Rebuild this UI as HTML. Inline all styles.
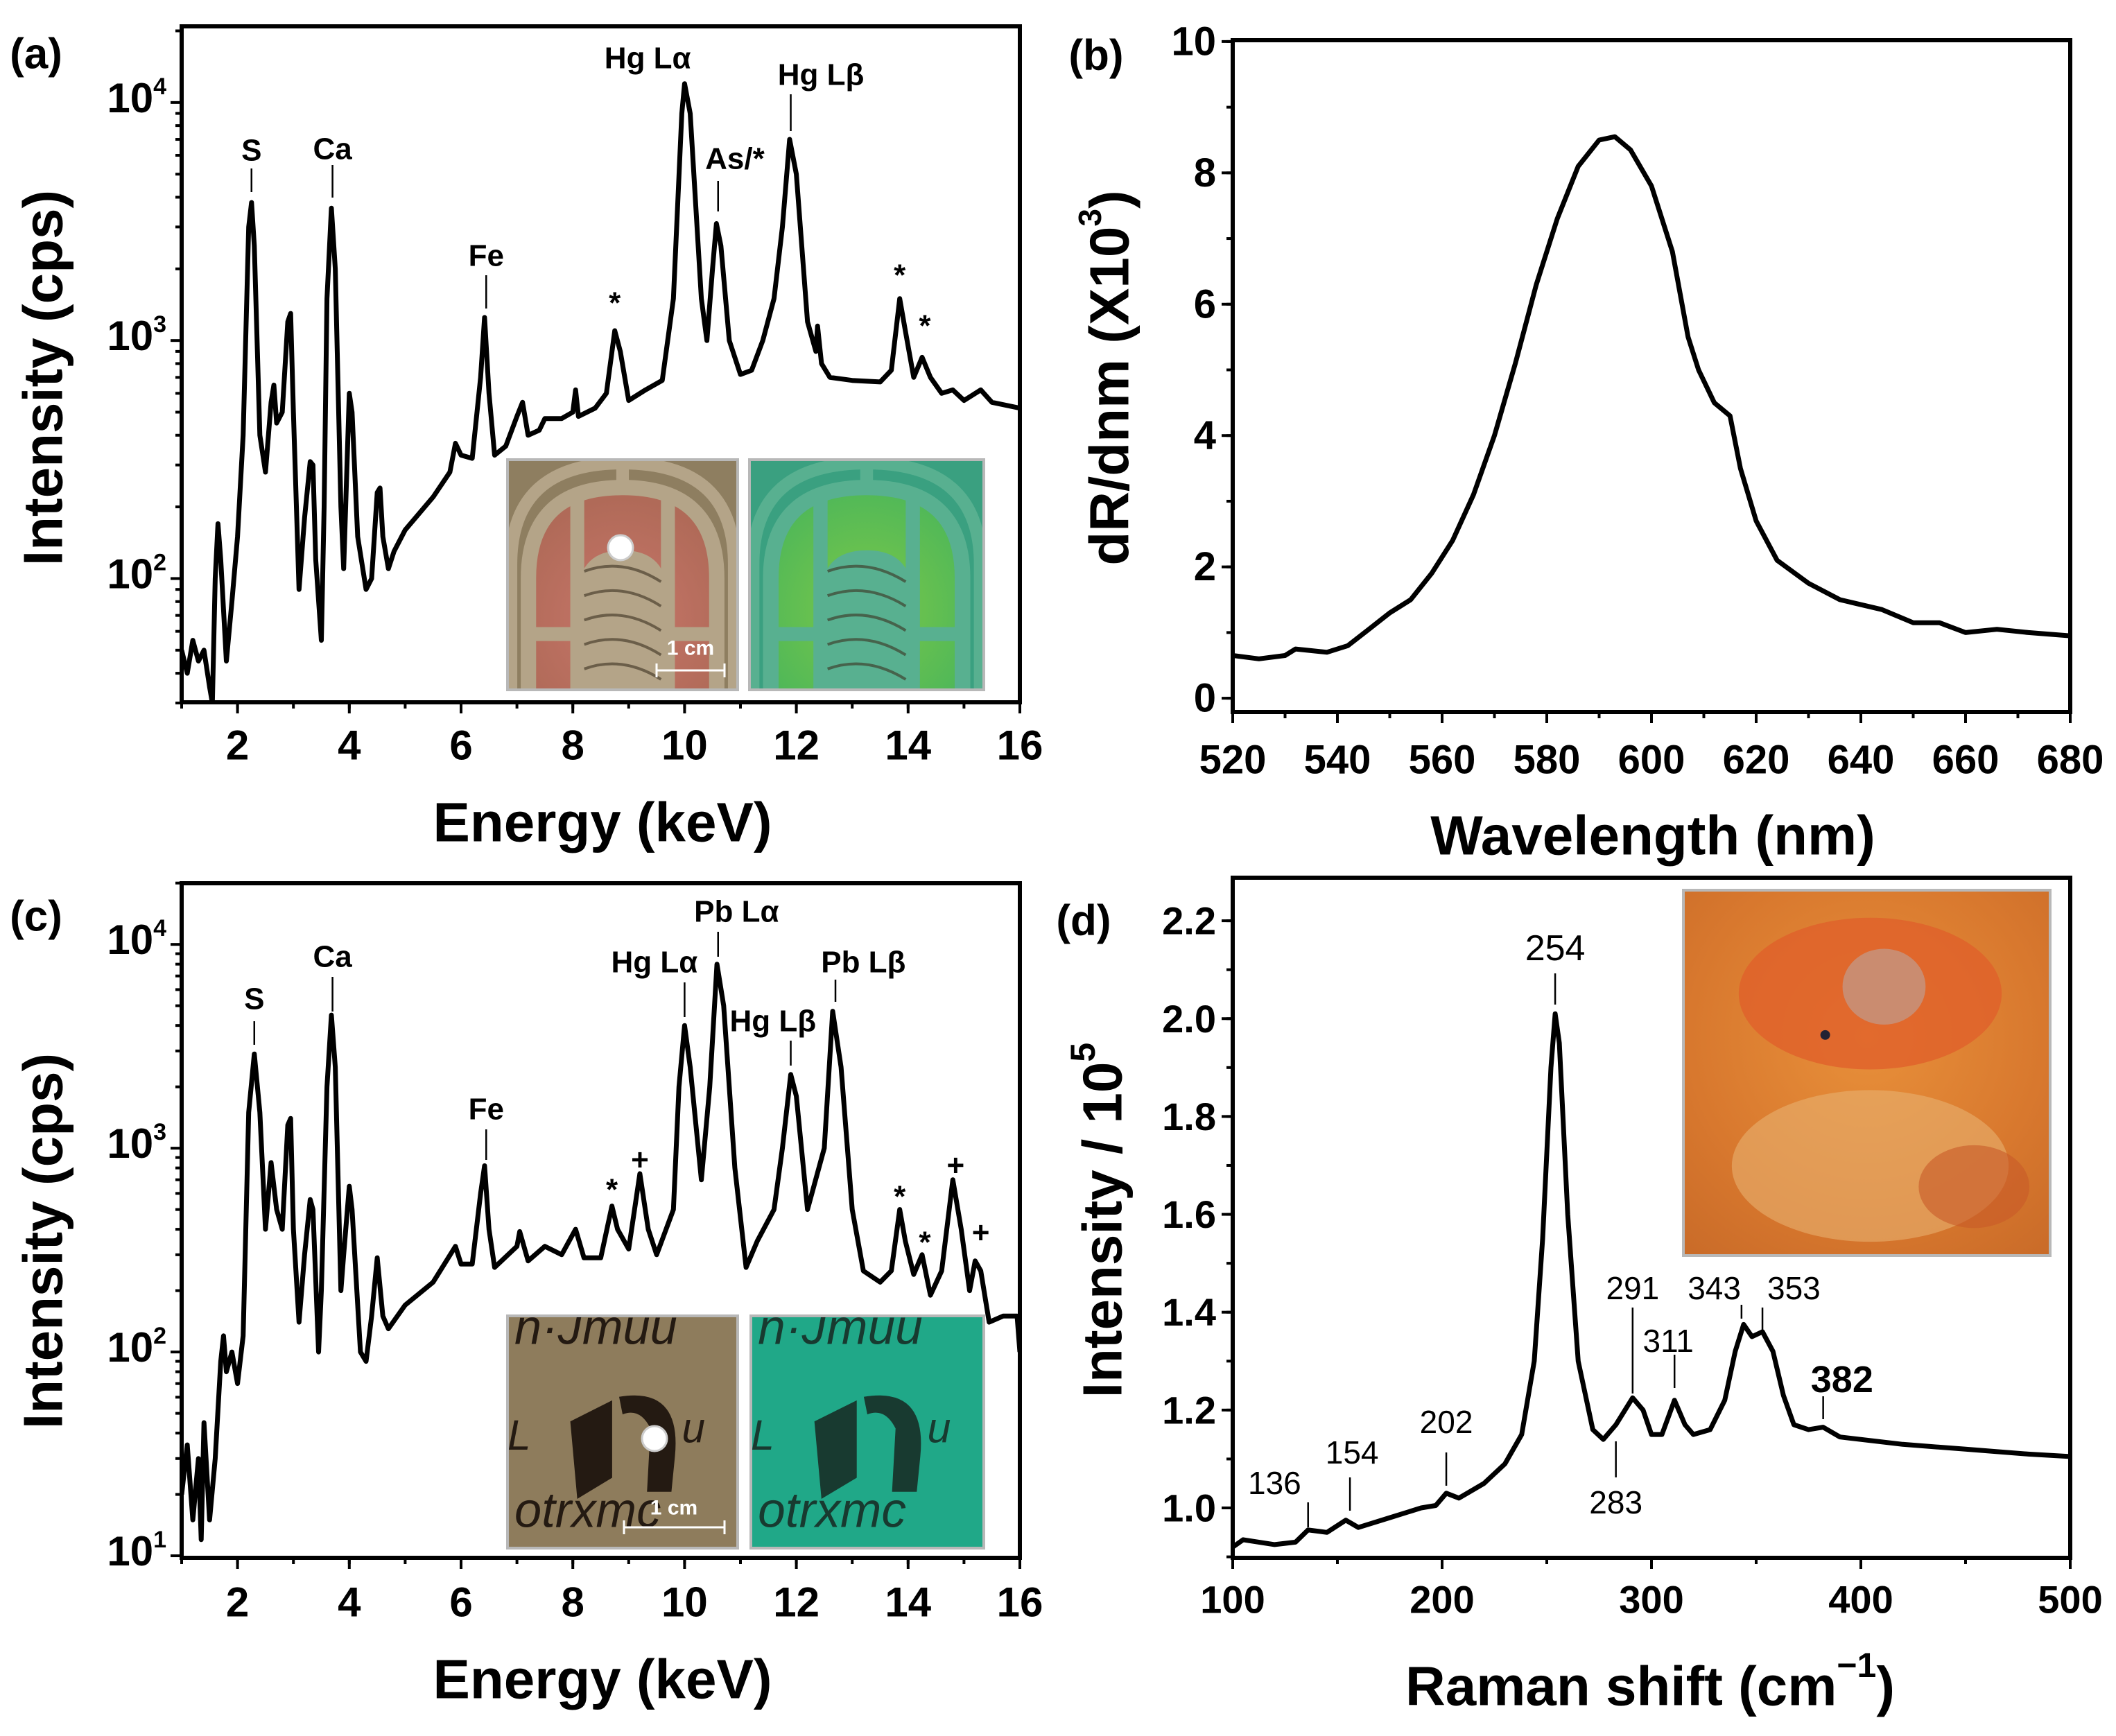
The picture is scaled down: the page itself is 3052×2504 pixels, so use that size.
<!DOCTYPE html>
<html><head><meta charset="utf-8"><style>
html,body{margin:0;padding:0;background:#fff}
svg{display:block}
text{font-family:"Liberation Sans",Arial,sans-serif;fill:#000}
</style></head>
<body>
<svg id="fig" xmlns="http://www.w3.org/2000/svg" width="3052" height="2504" viewBox="0 0 3052 2504">
<defs>
<radialGradient id="redArch" cx="0.5" cy="0.65" r="0.6"><stop offset="0" stop-color="#c8766a"/><stop offset="1" stop-color="#b06a58"/></radialGradient>
<radialGradient id="greenArch" cx="0.5" cy="0.6" r="0.6"><stop offset="0" stop-color="#7cc848"/><stop offset="1" stop-color="#50b858"/></radialGradient>
<radialGradient id="orangeBg" cx="0.5" cy="0.4" r="0.8"><stop offset="0" stop-color="#e8903a"/><stop offset="0.6" stop-color="#d8782e"/><stop offset="1" stop-color="#c86a28"/></radialGradient>
</defs>
<g id="layer"></g>
</svg>
<script>
// ---------- data ----------
const aEnergy=[1.0,1.1,1.2,1.3,1.4,1.5,1.55,1.6,1.65,1.7,1.8,1.9,2.0,2.1,2.2,2.25,2.3,2.4,2.5,2.6,2.65,2.7,2.8,2.9,2.95,3.0,3.1,3.2,3.3,3.35,3.4,3.5,3.55,3.6,3.68,3.75,3.85,3.9,4.0,4.05,4.15,4.3,4.4,4.5,4.55,4.6,4.7,4.8,5.0,5.5,5.8,5.9,6.0,6.2,6.35,6.42,6.5,6.6,6.8,7.0,7.1,7.2,7.4,7.5,7.8,8.0,8.05,8.1,8.4,8.6,8.75,8.85,9.0,9.3,9.6,9.8,9.95,10.0,10.1,10.3,10.4,10.5,10.57,10.65,10.8,11.0,11.2,11.4,11.6,11.75,11.88,12.0,12.2,12.35,12.38,12.45,12.6,13.0,13.5,13.7,13.85,13.95,14.1,14.25,14.4,14.6,14.8,15.0,15.3,15.5,16.0];
const aCounts=[50,40,55,45,50,35,30,100,170,120,45,80,150,400,3000,3800,2500,400,280,550,650,450,500,1200,1300,500,90,180,310,300,120,55,200,1500,3600,2000,200,110,600,500,150,90,100,230,240,150,110,130,160,220,280,370,330,320,700,1250,600,330,360,480,550,400,420,470,470,500,620,480,520,600,1100,900,560,620,680,1500,9000,12000,9000,1500,1000,2000,3100,2500,1000,720,750,1000,1500,3000,7000,5000,1200,900,1150,800,700,680,670,750,1500,1100,700,850,700,600,620,560,620,550,520];
const cEnergy=[1.0,1.1,1.2,1.3,1.35,1.4,1.5,1.6,1.7,1.75,1.8,1.9,2.0,2.1,2.2,2.3,2.4,2.5,2.6,2.7,2.8,2.9,2.95,3.0,3.1,3.2,3.3,3.35,3.45,3.5,3.6,3.68,3.75,3.85,3.9,4.0,4.05,4.2,4.3,4.4,4.5,4.6,4.7,5.0,5.5,5.9,6.0,6.2,6.35,6.42,6.5,6.6,7.0,7.05,7.2,7.5,7.8,8.05,8.2,8.5,8.7,8.8,9.0,9.2,9.35,9.5,9.8,9.9,10.0,10.1,10.3,10.45,10.58,10.7,10.9,11.1,11.3,11.6,11.75,11.9,12.0,12.2,12.5,12.65,12.8,13.0,13.2,13.5,13.7,13.85,13.95,14.1,14.25,14.4,14.6,14.8,14.95,15.1,15.2,15.3,15.45,15.7,15.95,16.0];
const cCounts=[20,35,15,30,12,45,15,30,90,120,80,100,70,120,1500,2900,1500,400,850,500,400,1300,1400,400,140,300,560,500,100,200,2000,4500,2500,200,300,650,500,100,90,150,290,150,130,170,220,330,270,270,600,820,400,260,330,390,280,330,300,400,290,290,520,400,320,750,400,300,500,2000,4000,2500,700,2000,8000,5000,800,260,350,500,1000,2300,1800,500,1000,4700,2500,500,250,220,250,500,350,240,300,190,250,700,400,200,280,250,140,150,150,100];
const bWavelength=[520,525,530,532,538,542,546,550,554,558,562,566,570,574,578,582,586,590,593,596,600,604,607,609,612,615,617,620,624,630,636,644,650,655,660,666,672,680];
const bSignal=[0.65,0.6,0.65,0.75,0.7,0.8,1.05,1.3,1.5,1.9,2.4,3.1,4.0,5.1,6.3,7.3,8.1,8.5,8.55,8.35,7.8,6.8,5.5,5.0,4.5,4.3,3.5,2.7,2.1,1.75,1.5,1.35,1.15,1.15,1.0,1.05,1.0,0.95];
const dShift=[100,105,120,130,136,145,154,160,175,190,197,202,208,220,230,238,244,248,252,254,256,260,265,272,277,283,291,296,300,305,311,316,320,328,335,340,344,348,353,358,363,368,375,382,390,420,450,480,500];
const dIntensity=[0.92,0.935,0.925,0.93,0.955,0.95,0.975,0.96,0.98,1.0,1.005,1.03,1.02,1.05,1.09,1.15,1.3,1.55,1.9,2.01,1.95,1.6,1.3,1.16,1.14,1.17,1.225,1.2,1.15,1.15,1.22,1.17,1.15,1.16,1.22,1.32,1.375,1.35,1.36,1.32,1.23,1.17,1.16,1.165,1.145,1.13,1.12,1.11,1.105];
const energyTicks=[2,4,6,8,10,12,14,16];
const logTicksA=[2,3,4];
const logTicksC=[1,2,3,4];
const wlTicks=[520,540,560,580,600,620,640,660,680];
const bYTicks=[0,2,4,6,8,10];
const ramanTicks=[100,200,300,400,500];
const dYTicks=["1.0","1.2","1.4","1.6","1.8","2.0","2.2"];

// ---------- helpers ----------
const NS="http://www.w3.org/2000/svg";
const root=document.getElementById('layer');
function mk(tag,attrs,parent,txt){const e=document.createElementNS(NS,tag);for(const k in attrs)e.setAttribute(k,attrs[k]);if(txt!==undefined)e.textContent=txt;(parent||root).appendChild(e);return e;}
function linScale(d0,d1,r0,r1){return v=>r0+(v-d0)/(d1-d0)*(r1-r0);}
function logScale(d0,d1,r0,r1){const l0=Math.log10(d0),l1=Math.log10(d1);return v=>r0+(Math.log10(v)-l0)/(l1-l0)*(r1-r0);}

function panel(P){
  const g=mk('g',{});
  
  
  const X=P.xs,Y=P.ys;
  for(const t of P.xMinor){const px=X(t);const l=mk('line',{x1:px,y1:P.b,x2:px,y2:P.b+9,stroke:'#000','stroke-width':4},g);}
  for(const t of P.xTicks){const px=X(t);const l=mk('line',{x1:px,y1:P.b,x2:px,y2:P.b+16,stroke:'#000','stroke-width':4},g);
    const tx=mk('text',{x:px,y:P.xLabelY,'text-anchor':'middle','dominant-baseline':'central','font-size':P.tickFs,'font-weight':'bold'},g,String(t));}
  for(const t of P.yMinor){const py=Y(t);if(py<P.t-1||py>P.b+1)continue;const l=mk('line',{x1:P.l,y1:py,x2:P.l-9,y2:py,stroke:'#000','stroke-width':4},g);}
  P.yTicks.forEach((t,i)=>{const py=Y(t);const l=mk('line',{x1:P.l,y1:py,x2:P.l-16,y2:py,stroke:'#000','stroke-width':4},g);
    let tx;
    if(P.log){tx=mk('text',{x:P.l-22,y:py+14,'text-anchor':'end','font-size':P.tickFs,'font-weight':'bold'},g);
      mk('tspan',{},tx,'10');mk('tspan',{dy:-26,'font-size':34},tx,String(P.logExp[i]));}
    else{tx=mk('text',{x:P.l-24,y:py,'text-anchor':'end','dominant-baseline':'central','font-size':P.tickFs,'font-weight':'bold'},g,P.yLabels[i]);}
    });
  const cid='clip-'+P.name;const cp=mk('clipPath',{id:cid},g);mk('rect',{x:P.l,y:P.t,width:P.r-P.l,height:P.b-P.t},cp);
  let d='';P.xd.forEach((v,i)=>{d+=(i?'L':'M')+X(v).toFixed(1)+','+Y(P.yd[i]).toFixed(1);});
  const path=mk('path',{d:d,fill:'none',stroke:'#000','stroke-width':7,'stroke-linejoin':'round','clip-path':'url(#'+cid+')'},g);
  
  const fr=mk('rect',{x:P.l,y:P.t,width:P.r-P.l,height:P.b-P.t,fill:'none',stroke:'#000','stroke-width':6},g);
  
  return g;
}
function ann(g,x,y,txt,fs,weight){const t=mk('text',{x:x,y:y,'text-anchor':'middle','dominant-baseline':'central','font-size':fs||44,'font-weight':weight||'bold'},g,txt);return t;}
function vline(g,x,y1,y2){const l=mk('line',{x1:x,y1:y1,x2:x,y2:y2,stroke:'#000','stroke-width':2.5},g);}
function logMinor(lo,hi){const a=[];for(let e=lo;e<hi;e++)for(let k=2;k<=9;k++)a.push(k*Math.pow(10,e));return a;}
function range(a,b,s){const r=[];for(let v=a;v<=b+1e-9;v+=s)r.push(+v.toFixed(6));return r;}

const A={name:'panel-a-xrf',l:262,r:1471,t:38,b:1013,log:true,tickFs:60,xLabelY:1075};
A.xs=linScale(1,16,A.l,A.r);A.ys=logScale(Math.pow(10,4.32),Math.pow(10,1.48),A.t,A.b);
A.xTicks=energyTicks;A.xMinor=range(1,16,1);A.yTicks=logTicksA.map(e=>Math.pow(10,e));A.logExp=logTicksA;A.yMinor=logMinor(1,5);
A.xd=aEnergy;A.yd=aCounts;
const gA=panel(A);
const C={name:'panel-c-xrf',l:262,r:1471,t:1274,b:2247,log:true,tickFs:60,xLabelY:2311};
C.xs=linScale(1,16,C.l,C.r);C.ys=logScale(Math.pow(10,4.30),Math.pow(10,0.99),C.t,C.b);
C.xTicks=energyTicks;C.xMinor=range(1,16,1);C.yTicks=logTicksC.map(e=>Math.pow(10,e));C.logExp=logTicksC;C.yMinor=logMinor(0,5);
C.xd=cEnergy;C.yd=cCounts;
const gC=panel(C);
const B={name:'panel-b-reflectance',l:1778,r:2986,t:58,b:1027,log:false,tickFs:58,xLabelY:1096};
B.xs=linScale(520,680,B.l,B.r);B.ys=linScale(10.02,-0.21,B.t,B.b);
B.xTicks=wlTicks;B.xMinor=range(520,680,10);B.yTicks=bYTicks;B.yLabels=bYTicks.map(String);B.yMinor=range(0,10,1);
B.xd=bWavelength;B.yd=bSignal;
const gB=panel(B);
const D={name:'panel-d-raman',l:1778,r:2986,t:1266,b:2247,log:false,tickFs:56,xLabelY:2307};
D.xs=linScale(100,500,D.l,D.r);D.ys=linScale(2.288,0.898,D.t,D.b);
D.xTicks=ramanTicks;D.xMinor=range(100,500,50);D.yTicks=dYTicks.map(Number);D.yLabels=dYTicks;D.yMinor=range(0.9,2.2,0.1);
D.xd=dShift;D.yd=dIntensity;
const gD=panel(D);

function insetFrame(g,x,y,w,h,name){const r=mk('rect',{x:x,y:y,width:w,height:h,fill:'none',stroke:'#b8b8b8','stroke-width':4},g);}
function archInset(g,x,y,w,h,bg,fill,band,name){
  const s=mk('svg',{x:x,y:y,width:w,height:h,viewBox:'0 0 330 330',preserveAspectRatio:'none'},g);
  
  mk('rect',{x:0,y:0,width:330,height:330,fill:bg},s);
  mk('path',{d:'M30,330 L30,170 Q30,40 165,40 Q300,40 300,170 L300,330 Z',fill:fill},s);
  mk('path',{d:'M30,330 L30,170 Q30,40 165,40 Q300,40 300,170 L300,330',fill:'none',stroke:band,'stroke-width':22},s);
  mk('path',{d:'M5,330 L5,150 Q5,5 165,5 Q325,5 325,150 L325,330',fill:'none',stroke:band,'stroke-width':18},s);
  mk('line',{x1:100,y1:55,x2:100,y2:330,stroke:band,'stroke-width':20},s);
  mk('line',{x1:230,y1:55,x2:230,y2:330,stroke:band,'stroke-width':20},s);
  mk('line',{x1:30,y1:250,x2:300,y2:250,stroke:band,'stroke-width':20},s);
  mk('line',{x1:165,y1:0,x2:165,y2:40,stroke:band,'stroke-width':18},s);
  mk('path',{d:'M100,330 L100,200 Q100,130 165,130 Q230,130 230,200 L230,330 Z',fill:band},s);
  for(let i=0;i<5;i++)mk('path',{d:'M110,'+(160+i*35)+' Q165,'+(140+i*35)+' 220,'+(175+i*35),fill:'none',stroke:'#3a3020','stroke-width':4,opacity:0.6},s);
}
archInset(gA,732,663,332,332,'#8e7e60','url(#redArch)','#b4a488','inset-red-photo');
insetFrame(gA,732,663,332,332,'inset-red-frame');
archInset(gA,1081,663,338,332,'#3aa080','url(#greenArch)','#58b090','inset-green-photo');
insetFrame(gA,1081,663,338,332,'inset-green-frame');
const dotA=mk('circle',{cx:895,cy:790,r:18,fill:'#fff',stroke:'#ccc','stroke-width':3},gA);
mk('line',{x1:947,y1:967,x2:1045,y2:967,stroke:'#fff','stroke-width':3},gA);
mk('line',{x1:947,y1:957,x2:947,y2:977,stroke:'#fff','stroke-width':3},gA);mk('line',{x1:1045,y1:957,x2:1045,y2:977,stroke:'#fff','stroke-width':3},gA);
const sbA=mk('text',{x:996,y:935,'text-anchor':'middle','dominant-baseline':'central','font-size':30,'font-weight':'bold',style:'fill:#fff'},gA,'1 cm');

function textInset(g,x,y,w,h,bg,ink,name){
  const s=mk('svg',{x:x,y:y,width:w,height:h,viewBox:'0 0 330 330',preserveAspectRatio:'none'},g);
  
  mk('rect',{x:0,y:0,width:330,height:330,fill:bg},s);
  const lines=[[40,'n·Jmuu'],[300,'otrxmc']];
  lines.forEach(l=>{mk('text',{x:10,y:l[0],'font-size':70,'font-family':'Liberation Serif,serif','font-style':'italic',style:'fill:'+ink},s,l[1]);});
  mk('path',{d:'M90,150 L150,120 L150,230 L100,260 Z',fill:ink},s);
  mk('path',{d:'M160,115 Q250,100 240,200 L235,250 L200,250 L205,160 Q190,130 165,140 Z',fill:ink},s);
  mk('text',{x:250,y:180,'font-size':60,'font-family':'Liberation Serif,serif','font-style':'italic',style:'fill:'+ink},s,'u');
  mk('text',{x:0,y:190,'font-size':60,'font-family':'Liberation Serif,serif','font-style':'italic',style:'fill:'+ink},s,'L');
}
textInset(gC,732,1898,332,335,'#8e7c5c','#241a12','inset-manuscript-photo');
insetFrame(gC,732,1898,332,335,'inset-manuscript-frame');
textInset(gC,1083,1898,336,335,'#20a888','#183a30','inset-uv-photo');
insetFrame(gC,1083,1898,336,335,'inset-uv-frame');
const dotC=mk('circle',{cx:944,cy:2075,r:18,fill:'#fff',stroke:'#ccc','stroke-width':3},gC);
mk('line',{x1:900,y1:2203,x2:1045,y2:2203,stroke:'#fff','stroke-width':3},gC);
mk('line',{x1:900,y1:2193,x2:900,y2:2213,stroke:'#fff','stroke-width':3},gC);mk('line',{x1:1045,y1:2193,x2:1045,y2:2213,stroke:'#fff','stroke-width':3},gC);
const sbC=mk('text',{x:972,y:2175,'text-anchor':'middle','dominant-baseline':'central','font-size':30,'font-weight':'bold',style:'fill:#fff'},gC,'1 cm');

(function(){
  const s=mk('svg',{x:2428,y:1284,width:529,height:527,viewBox:'0 0 530 530',preserveAspectRatio:'none'},gD);
  
  mk('rect',{x:0,y:0,width:530,height:530,fill:'url(#orangeBg)'},s);
  mk('ellipse',{cx:270,cy:150,rx:190,ry:110,fill:'#e0602a',opacity:0.8},s);
  mk('ellipse',{cx:290,cy:140,rx:60,ry:55,fill:'#c89078',opacity:0.9},s);
  mk('ellipse',{cx:270,cy:400,rx:200,ry:110,fill:'#e8b070',opacity:0.6},s);
  mk('ellipse',{cx:420,cy:430,rx:80,ry:60,fill:'#c85a28',opacity:0.6},s);
  mk('circle',{cx:205,cy:210,r:7,fill:'#223'},s);
  insetFrame(gD,2428,1284,529,527,'inset-microscope-frame');
})();

// (a)
ann(gA,A.xs(2.25),217,'S');vline(gA,A.xs(2.25),243,277);
ann(gA,A.xs(3.7),215,'Ca');vline(gA,A.xs(3.7),238,285);
ann(gA,A.xs(6.45),369,'Fe');vline(gA,A.xs(6.45),397,445);
ann(gA,A.xs(8.75),437,'*');
ann(gA,A.xs(9.34),84,'Hg Lα');
ann(gA,A.xs(10.9),229,'As/*');vline(gA,A.xs(10.6),261,305);
ann(gA,A.xs(12.44),108,'Hg Lβ');vline(gA,A.xs(11.9),136,189);
ann(gA,A.xs(13.85),397,'*');ann(gA,A.xs(14.3),470,'*');
// (c)
ann(gC,C.xs(2.3),1441,'S');vline(gC,C.xs(2.3),1473,1507);
ann(gC,C.xs(3.7),1380,'Ca');vline(gC,C.xs(3.7),1409,1459);
ann(gC,C.xs(6.45),1600,'Fe');vline(gC,C.xs(6.45),1629,1673);
ann(gC,C.xs(9.46),1388,'Hg Lα');vline(gC,C.xs(10.0),1417,1467);
ann(gC,C.xs(10.93),1315,'Pb Lα');vline(gC,C.xs(10.6),1344,1380);
ann(gC,C.xs(11.58),1473,'Hg Lβ');vline(gC,C.xs(11.9),1501,1537);
ann(gC,C.xs(13.2),1388,'Pb Lβ');vline(gC,C.xs(12.7),1413,1445);
ann(gC,C.xs(8.7),1716,'*');ann(gC,C.xs(9.2),1673,'+');ann(gC,C.xs(13.85),1726,'*');ann(gC,C.xs(14.3),1792,'*');ann(gC,C.xs(14.85),1681,'+');ann(gC,C.xs(15.3),1778,'+');
// (d)
ann(gD,D.xs(254),1368,'254',52,'normal');vline(gD,D.xs(254),1404,1449);
ann(gD,D.xs(120),2139,'136',46,'normal');vline(gD,D.xs(136),2167,2203);
ann(gD,D.xs(157),2095,'154',46,'normal');vline(gD,D.xs(156),2131,2179);
ann(gD,D.xs(202),2051,'202',46,'normal');vline(gD,D.xs(202),2095,2143);
ann(gD,D.xs(291),1858,'291',46,'normal');vline(gD,D.xs(291),1886,2010);
ann(gD,D.xs(308),1934,'311',46,'normal');vline(gD,D.xs(311),1954,2002);
ann(gD,D.xs(330),1858,'343',46,'normal');vline(gD,D.xs(343),1882,1902);
ann(gD,D.xs(368),1858,'353',46,'normal');vline(gD,D.xs(353),1886,1918);
ann(gD,D.xs(391),1990,'382',54,'bold');vline(gD,D.xs(382),2014,2047);
ann(gD,D.xs(283),2167,'283',46,'normal');vline(gD,D.xs(283),2079,2131);

function title(g,x,y,txt,rot,name){const t=mk('text',{x:x,y:y,'text-anchor':'middle','dominant-baseline':'central','font-size':80,'font-weight':'bold',transform:rot?'rotate(-90 '+x+' '+y+')':''},g,txt);return t;}
title(gA,869,1186,'Energy (keV)',false,'x-axis-title');
title(gA,62,545,'Intensity (cps)',true,'y-axis-title');
title(gC,869,2422,'Energy (keV)',false,'x-axis-title');
title(gC,62,1790,'Intensity (cps)',true,'y-axis-title');
title(gB,2384,1205,'Wavelength (nm)',false,'x-axis-title');
const tb=title(gB,1600,545,'dR/dnm (X10',true,'y-axis-title');mk('tspan',{dy:-28,'font-size':46},tb,'3');mk('tspan',{dy:28},tb,')');
const td=title(gD,2380,2432,'Raman shift (cm',false,'x-axis-title');mk('tspan',{dy:-30,'font-size':50},td,'−1');mk('tspan',{dy:30},td,')');
const ty=title(gD,1590,1760,'Intensity / 10',true,'y-axis-title');mk('tspan',{dy:-28,'font-size':50},ty,'5');
function plabel(x,y,t,name){const e=mk('text',{x:x,y:y,'text-anchor':'middle','dominant-baseline':'central','font-size':62,'font-weight':'bold'},root,t);}
plabel(52,78,'(a)','panel-label-a');plabel(1581,80,'(b)','panel-label-b');plabel(52,1322,'(c)','panel-label-c');plabel(1563,1328,'(d)','panel-label-d');
</script>
</body></html>
